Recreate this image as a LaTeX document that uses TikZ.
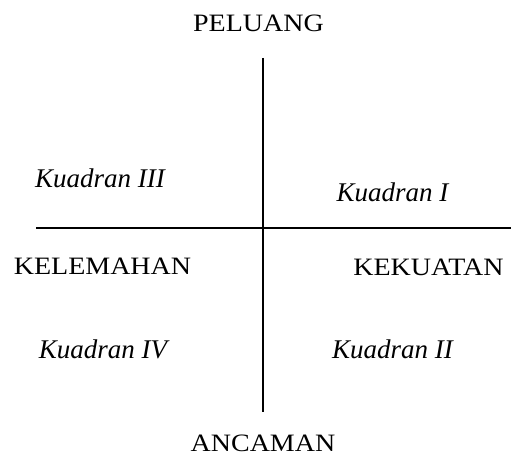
\documentclass[tikz,border=0pt]{standalone}
\usepackage{fontspec}
\setmainfont{Liberation Serif}
\newfontfamily\capfont[FakeStretch=1.12]{Liberation Serif}
\tikzset{
  axisline/.style={line width=2.3pt, black},
  caplabel/.style={font=\capfont\fontsize{25}{28}\selectfont, inner sep=0pt, anchor=base},
  quadlabel/.style={font=\fontsize{27}{30}\selectfont\itshape, inner sep=0pt, anchor=base}
}
\begin{document}
\begin{tikzpicture}[x=1pt,y=-1pt]
\useasboundingbox (0,0) rectangle (511,457);
\coordinate (top) at (263.3,58);
\coordinate (bot) at (263.3,412);
\coordinate (left) at (36,227.7);
\coordinate (right) at (511,227.7);
\draw[axisline] (top) -- (bot);
\draw[axisline] (left) -- (right);
\node[caplabel] (peluang) at (258.5,32) {PELUANG};
\node[caplabel] (ancaman) at (263,451) {ANCAMAN};
\node[caplabel] (kelemahan) at (102.5,274) {KELEMAHAN};
\node[caplabel] (kekuatan) at (428.5,275) {KEKUATAN};
\node[quadlabel] (k3) at (100,188) {Kuadran III};
\node[quadlabel] (k1) at (392.5,201.7) {Kuadran I};
\node[quadlabel] (k4) at (103,358) {Kuadran IV};
\node[quadlabel] (k2) at (392.5,358) {Kuadran II};
\end{tikzpicture}
\end{document}
